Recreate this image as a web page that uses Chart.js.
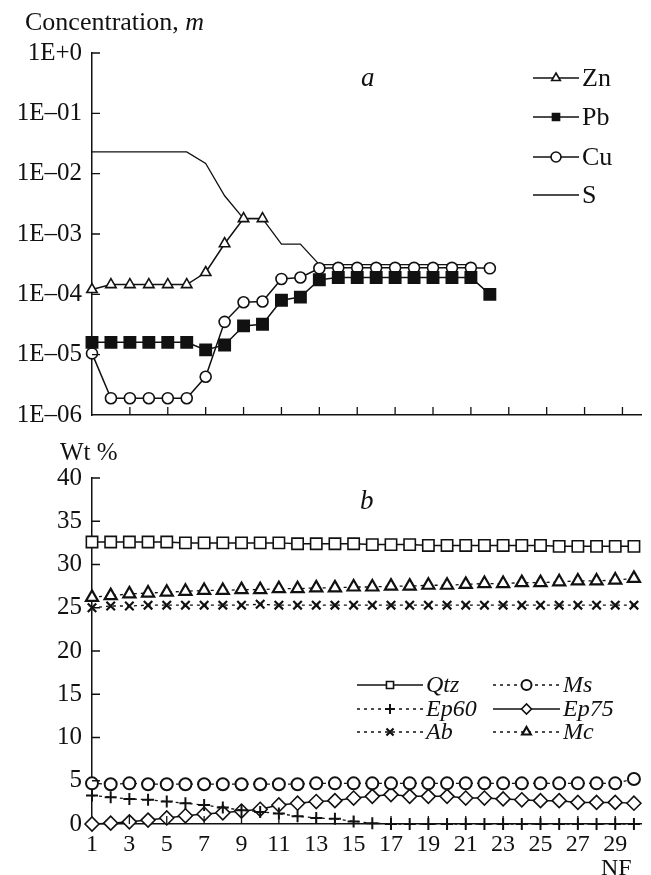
<!DOCTYPE html>
<html>
<head>
<meta charset="utf-8">
<script src="https://cdn.jsdelivr.net/npm/chart.js@4/dist/chart.umd.min.js"></script>
<style>
  body { margin: 0; background: #fff; width: 651px; height: 875px; position: relative; overflow: hidden;
         font-family: "Liberation Serif", "DejaVu Serif", serif; color: #111; }
  .box { position: absolute; left: 0; width: 651px; }
  #boxA { top: 0; height: 440px; }
  #boxB { top: 440px; height: 435px; }
  .lbl { position: absolute; white-space: nowrap; line-height: 1; }
</style>
</head>
<body>
<div class="box" id="boxA"><canvas id="chartA" width="651" height="440"></canvas></div>
<div class="box" id="boxB"><canvas id="chartB" width="651" height="435"></canvas></div>
<div class="lbl" style="left:25px;top:9px;font-size:26px">Concentration, <i>m</i></div>
<div class="lbl" style="left:361px;top:64px;font-size:27px"><i>a</i></div>
<div class="lbl" style="left:60px;top:439px;font-size:25px">Wt %</div>
<div class="lbl" style="left:360px;top:487px;font-size:27px"><i>b</i></div>
<div class="lbl" style="left:601px;top:855px;font-size:24px">NF</div>
<script>
// panel a: dissolved concentrations, m (log scale)
const nfA = [1,2,3,4,5,6,7,8,9,10,11,12,13,14,15,16,17,18,19,20,21,22];
const zn = [1.2e-4,1.45e-4,1.45e-4,1.45e-4,1.45e-4,1.45e-4,2.3e-4,6.9e-4,1.8e-3,1.8e-3];
const pb = [1.6e-5,1.6e-5,1.6e-5,1.6e-5,1.6e-5,1.6e-5,1.2e-5,1.45e-5,3.0e-5,3.2e-5,8e-5,9e-5,1.75e-4,
            1.9e-4,1.9e-4,1.9e-4,1.9e-4,1.9e-4,1.9e-4,1.9e-4,1.9e-4,1.0e-4];
const cu = [1.05e-5,1.9e-6,1.9e-6,1.9e-6,1.9e-6,1.9e-6,4.3e-6,3.5e-5,7.4e-5,7.6e-5,1.8e-4,1.9e-4,2.7e-4,
            2.75e-4,2.75e-4,2.75e-4,2.75e-4,2.75e-4,2.75e-4,2.75e-4,2.75e-4,2.7e-4];
const sulf = [0.023,0.023,0.023,0.023,0.023,0.023,0.0148,0.0043,0.0018,0.0018,6.8e-4,6.8e-4,3.1e-4,
              3.1e-4,3.1e-4,3.1e-4,3.1e-4,3.1e-4,3.1e-4,3.1e-4,3.1e-4];
const yTicksA = [1e-6,1e-5,1e-4,1e-3,1e-2,1e-1,1];
const yLabelsA = ['1E–06','1E–05','1E–04','1E–03','1E–02','1E–01','1E+0'];

// panel b: mineral content, wt %
const nfB = [1,2,3,4,5,6,7,8,9,10,11,12,13,14,15,16,17,18,19,20,21,22,23,24,25,26,27,28,29,30];
const qtz = [32.6,32.6,32.6,32.6,32.6,32.5,32.5,32.5,32.5,32.5,32.5,32.4,32.4,32.4,32.4,
             32.3,32.3,32.3,32.2,32.2,32.2,32.2,32.2,32.2,32.2,32.1,32.1,32.1,32.1,32.1];
const mc = [26.2,26.4,26.6,26.7,26.8,26.9,27.0,27.0,27.1,27.1,27.2,27.2,27.3,27.3,27.4,
            27.4,27.5,27.5,27.6,27.6,27.7,27.8,27.8,27.9,27.9,28.0,28.1,28.1,28.2,28.4];
const ab = [25.0,25.2,25.2,25.3,25.3,25.3,25.3,25.3,25.3,25.4,25.3,25.3,25.3,25.3,25.3,
            25.3,25.3,25.3,25.3,25.3,25.3,25.3,25.3,25.3,25.3,25.3,25.3,25.3,25.3,25.3];
const ms = [4.7,4.6,4.7,4.6,4.6,4.6,4.6,4.6,4.6,4.6,4.6,4.6,4.7,4.7,4.7,
            4.7,4.7,4.7,4.7,4.7,4.7,4.7,4.7,4.7,4.7,4.7,4.7,4.7,4.7,5.2];
const ep60 = [3.3,3.1,2.9,2.8,2.6,2.4,2.2,1.9,1.6,1.4,1.2,0.9,0.7,0.6,0.3,
              0.1,0,0,0,0,0,0,0,0,0,0,0,0,0,0];
const ep75 = [0,0.1,0.25,0.45,0.7,0.95,1.15,1.3,1.5,1.7,2.2,2.4,2.6,2.7,3.0,
              3.2,3.4,3.2,3.2,3.2,3.0,3.0,2.9,2.8,2.7,2.7,2.5,2.5,2.5,2.4];
const yTicksB = [0,5,10,15,20,25,30,35,40];
const xTicks = [1,3,5,7,9,11,13,15,17,19,21,23,25,27,29];

const INK = '#111';
const serif = '"Liberation Serif", "DejaVu Serif", serif';

function pts(xs, ys) { return ys.map((v, i) => ({ x: xs[i], y: v })); }

function series(label, data, style, opt) {
  return Object.assign({
    label: label, data: data, clip: false,
    borderColor: INK, borderWidth: 1.5, borderDash: [],
    pointStyle: style, pointRadius: 6, pointBorderWidth: 1.6,
    pointBorderColor: INK, pointBackgroundColor: '#fff', tension: 0
  }, opt || {});
}

// tick marks drawn inside the plot, as in the original figure
const innerTicks = {
  id: 'innerTicks',
  afterDraw(chart, args, o) {
    const ctx = chart.ctx, xs = chart.scales.x, ys = chart.scales.y, a = chart.chartArea;
    ctx.save();
    ctx.strokeStyle = INK; ctx.lineWidth = 1.3;
    ctx.beginPath();
    o.xVals.forEach(v => {
      if (v === xs.min) return;
      const px = xs.getPixelForValue(v);
      ctx.moveTo(px, a.bottom); ctx.lineTo(px, a.bottom - o.len);
    });
    o.yVals.forEach(v => {
      if (v === ys.min) return;
      const py = ys.getPixelForValue(v);
      ctx.moveTo(a.left, py); ctx.lineTo(a.left + o.len, py);
    });
    ctx.stroke();
    ctx.restore();
  }
};

// legend placed inside the plot: line, marker, label
const boxLegend = {
  id: 'boxLegend',
  afterDraw(chart, args, o) {
    const ctx = chart.ctx;
    chart.data.datasets.forEach((ds, i) => {
      const p = o.items[i];
      ctx.save();
      ctx.strokeStyle = INK; ctx.lineWidth = ds.borderWidth;
      ctx.setLineDash(ds.borderDash || []);
      ctx.beginPath(); ctx.moveTo(p.x1, p.y); ctx.lineTo(p.x2, p.y); ctx.stroke();
      ctx.setLineDash([]);
      if (ds.pointRadius > 0) {
        ctx.fillStyle = ds.pointBackgroundColor; ctx.strokeStyle = INK; ctx.lineWidth = ds.pointBorderWidth;
        Chart.helpers.drawPoint(ctx, { pointStyle: ds.pointStyle, radius: o.r, borderWidth: ds.pointBorderWidth, rotation: 0 },
          (p.x1 + p.x2) / 2, p.y);
      }
      ctx.fillStyle = INK; ctx.font = o.font; ctx.textBaseline = 'middle'; ctx.textAlign = 'left';
      ctx.fillText(ds.label, p.x2 + 3, p.y + 1);
      ctx.restore();
    });
  }
};

new Chart(document.getElementById('chartA'), {
  type: 'line',
  data: {
    datasets: [
      series('Zn', pts(nfA, zn), 'triangle', { pointRadius: 6 }),
      series('Pb', pts(nfA, pb), 'rect', { pointRadius: 8, pointBackgroundColor: INK }),
      series('Cu', pts(nfA, cu), 'circle', { pointRadius: 5.5 }),
      series('S', pts(nfA, sulf), 'circle', { pointRadius: 0, borderWidth: 1.3 })
    ]
  },
  options: {
    responsive: false, animation: false,
    layout: { padding: { top: 53, right: 8, left: 0, bottom: 0 } },
    plugins: {
      legend: { display: false }, tooltip: { enabled: false },
      innerTicks: { xVals: xTicks, yVals: yTicksA, len: 8 },
      boxLegend: {
        font: '26px ' + serif, r: 5,
        items: [
          { x1: 533, x2: 579, y: 78 }, { x1: 533, x2: 579, y: 117 },
          { x1: 533, x2: 579, y: 157 }, { x1: 533, x2: 579, y: 195 }
        ]
      }
    },
    scales: {
      x: {
        type: 'linear', min: 1, max: 30,
        grid: { display: false, drawTicks: false },
        border: { display: true, color: INK, width: 1.5 },
        ticks: { display: false },
        afterBuildTicks: s => { s.ticks = xTicks.map(v => ({ value: v })); },
        afterFit: s => { s.height = 19; }
      },
      y: {
        type: 'logarithmic', min: 1e-6, max: 1,
        grid: { display: false, drawTicks: false },
        border: { display: true, color: INK, width: 1.5 },
        ticks: {
          color: INK, padding: 10, font: { family: serif, size: 25 },
          callback: v => yLabelsA[yTicksA.indexOf(v)]
        },
        afterBuildTicks: s => { s.ticks = yTicksA.map(v => ({ value: v })); },
        afterFit: s => { s.width = 92; }
      }
    }
  },
  plugins: [innerTicks, boxLegend]
});

const dots = [3, 4];
new Chart(document.getElementById('chartB'), {
  type: 'line',
  data: {
    datasets: [
      series('Qtz', pts(nfB, qtz), 'rect', { pointRadius: 8 }),
      series('Ms', pts(nfB, ms), 'circle', { borderWidth: 1.3, borderDash: dots, pointBorderWidth: 2 }),
      series('Ep60', pts(nfB, ep60), 'cross', { borderWidth: 1.3, borderDash: dots, pointBorderWidth: 2 }),
      series('Ep75', pts(nfB, ep75), 'rectRot', { pointRadius: 7 }),
      series('Ab', pts(nfB, ab), 'crossRot', { borderWidth: 1.3, borderDash: dots, pointBorderWidth: 2.2 }),
      series('Mc', pts(nfB, mc), 'triangle', { borderWidth: 1.3, borderDash: dots, pointRadius: 7, pointBorderWidth: 2.2 })
    ]
  },
  options: {
    responsive: false, animation: false,
    layout: { padding: { top: 38, right: 2, left: 0, bottom: 0 } },
    plugins: {
      legend: { display: false }, tooltip: { enabled: false },
      innerTicks: { xVals: xTicks, yVals: yTicksB, len: 8 },
      boxLegend: {
        font: 'italic 24px ' + serif, r: 5,
        items: [
          { x1: 357, x2: 423, y: 685 - 440 }, { x1: 493, x2: 560, y: 685 - 440 },
          { x1: 357, x2: 423, y: 709 - 440 }, { x1: 493, x2: 560, y: 709 - 440 },
          { x1: 357, x2: 423, y: 732 - 440 }, { x1: 493, x2: 560, y: 732 - 440 }
        ]
      }
    },
    scales: {
      x: {
        type: 'linear', min: 1, max: 30.4,
        grid: { display: false, drawTicks: false },
        border: { display: true, color: INK, width: 1.5 },
        ticks: { color: INK, padding: 6, maxRotation: 0, autoSkip: false, font: { family: serif, size: 24 } },
        afterBuildTicks: s => { s.ticks = xTicks.map(v => ({ value: v })); },
        afterFit: s => { s.height = 51; }
      },
      y: {
        type: 'linear', min: 0, max: 40,
        grid: { display: false, drawTicks: false },
        border: { display: true, color: INK, width: 1.5 },
        ticks: { color: INK, padding: 10, font: { family: serif, size: 25 } },
        afterBuildTicks: s => { s.ticks = yTicksB.map(v => ({ value: v })); },
        afterFit: s => { s.width = 92; }
      }
    }
  },
  plugins: [innerTicks, boxLegend]
});
</script>
</body>
</html>
